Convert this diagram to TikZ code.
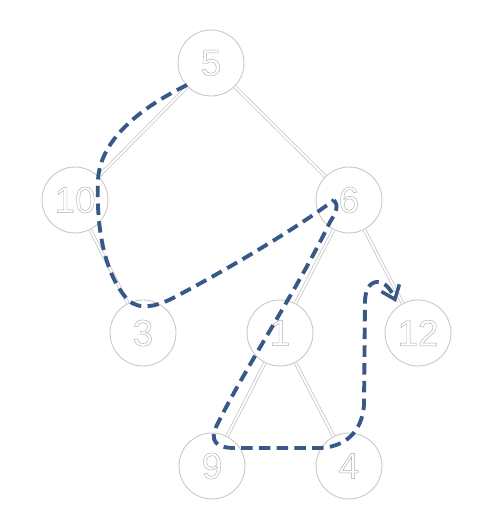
\documentclass[tikz,border=0pt]{standalone}
\usepackage{fontspec}
\setmainfont{Liberation Sans}
\usetikzlibrary{arrows.meta}
\definecolor{pathblue}{RGB}{56,88,135}
\definecolor{ringgray}{RGB}{200,200,200}
\definecolor{numgray}{RGB}{175,175,175}
\tikzset{
  tnode/.style={circle, draw=ringgray, line width=0.5pt, fill=white, minimum size=1.32cm, inner sep=0pt,
    font=\fontsize{21}{21}\selectfont, text=numgray},
  edge/.style={draw=ringgray, line width=0.45pt, double=white, double distance=1.1pt},
  trail/.style={draw=pathblue, line width=2.2pt, dash pattern=on 6.5pt off 3.6pt},
}
\newcommand{\hollow}[1]{\special{pdf:literal direct 1 Tr 0.25 w}#1\special{pdf:literal direct 0 Tr}}
\begin{document}
\begin{tikzpicture}[x=0.02cm,y=-0.02cm]
\useasboundingbox (0,0) rectangle (481,519);
\fill[white] (0,0) rectangle (481,519);
\coordinate (p5) at (211,63);
\coordinate (p10) at (75,200);
\coordinate (p6) at (349,200);
\coordinate (p3) at (143,333);
\coordinate (p1) at (280,333);
\coordinate (p12) at (418,333);
\coordinate (p9) at (212,466);
\coordinate (p4) at (349,466);
\node[tnode] (n5) at (p5) {\hollow{5}};
\node[tnode] (n10) at (p10) {\hollow{10}};
\node[tnode] (n6) at (p6) {\hollow{6}};
\node[tnode] (n3) at (p3) {\hollow{3}};
\node[tnode] (n1) at (p1) {\hollow{1}};
\node[tnode] (n12) at (p12) {\hollow{12}};
\node[tnode] (n9) at (p9) {\hollow{9}};
\node[tnode] (n4) at (p4) {\hollow{4}};
\draw[edge] (n5) -- (n10);
\draw[edge] (n5) -- (n6);
\draw[edge] (n10) -- (n3);
\draw[edge] (n6) -- (n1);
\draw[edge] (n6) -- (n12);
\draw[edge] (n1) -- (n9);
\draw[edge] (n1) -- (n4);
% traversal trail
\coordinate (t0) at (187,85);
\coordinate (t1) at (98,180);
\coordinate (t2) at (128,300);
\coordinate (t3) at (175,297);
\coordinate (t4) at (334,200);
\coordinate (t5) at (330,222);
\coordinate (t6) at (217,425);
\coordinate (t7) at (235,448);
\coordinate (t8) at (320,448);
\coordinate (t9) at (364,405);
\coordinate (t10) at (365,300);
\coordinate (t11) at (380,282);
\coordinate (t12) at (396,302);
\draw[trail] (t0) .. controls (140,108) and (100,140) .. (t1)
  .. controls (96,230) and (105,275) .. (t2)
  .. controls (140,311) and (158,306) .. (t3)
  .. controls (230,268) and (300,226) .. (t4);
\draw[trail, -{Straight Barb[length=7pt,width=11pt,line width=2pt]}] (t4)
  .. controls (339,205) and (336,213) .. (t5)
  .. controls (300,285) and (245,368) .. (t6)
  .. controls (209,441) and (216,448) .. (t7)
  -- (t8)
  .. controls (345,447) and (362,432) .. (t9)
  -- (t10)
  .. controls (366,286) and (372,281) .. (t11)
  .. controls (387,284) and (392,292) .. (t12);
\end{tikzpicture}
\end{document}
